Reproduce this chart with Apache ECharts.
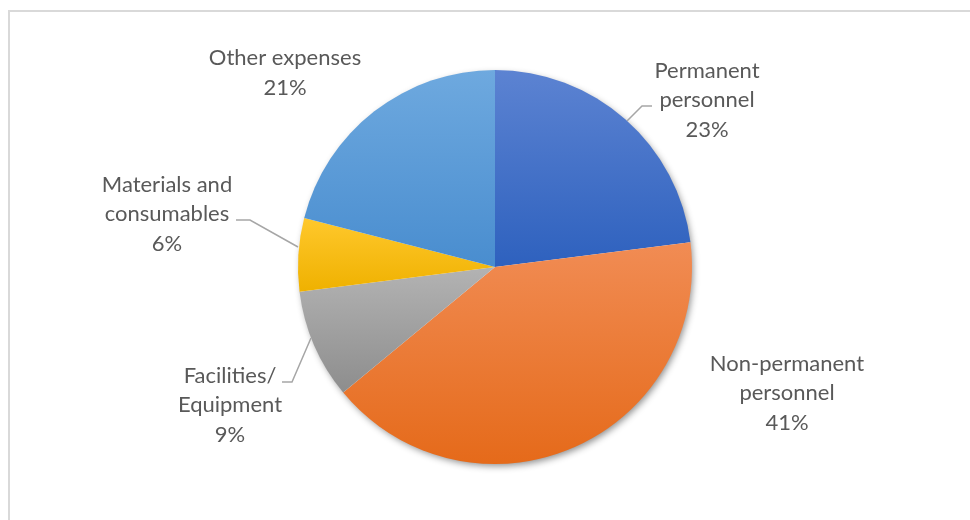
<!DOCTYPE html>
<html>
<head>
<meta charset="utf-8">
<script src="https://cdn.jsdelivr.net/npm/echarts@6/dist/echarts.min.js"></script>
<style>
  html, body { margin: 0; padding: 0; background: #ffffff; }
  #frame {
    position: absolute; left: 8px; top: 10px; width: 1000px; height: 560px;
    border: 2px solid #d9d9d9; box-sizing: border-box; background: #ffffff;
  }
  #chart { position: absolute; left: 0; top: 0; width: 970px; height: 520px; }
</style>
</head>
<body>
<div id="frame"></div>
<div id="chart"></div>
<script>
// Budget breakdown, share of total (%)
const categories = [
  'Permanent\npersonnel',
  'Non-permanent\npersonnel',
  'Facilities/\nEquipment',
  'Materials and\nconsumables',
  'Other expenses'
];
const shares = [23, 41, 9, 6, 21];

// Vertical gradient per slice: [top colour, bottom colour]
const sliceColors = [
  ['#5c83d2', '#2e61be'],
  ['#f18c54', '#e56a1a'],
  ['#b3b3b3', '#8d8d8d'],
  ['#ffc82c', '#efb100'],
  ['#6ea9df', '#498dcf']
];

// Pie geometry
const CX = 495, CY = 267, R = 197;

// Label block centres and leader lines, as offsets from the pie centre
const labelSpots = [
  { dx: 212, dy: -167, line: [[132, -146], [147, -161], [157, -161]] },
  { dx: 292, dy: 126, line: null },
  { dx: -265, dy: 138, line: [[-184, 71], [-203, 115], [-213, 115]] },
  { dx: -328, dy: -53, line: [[-197, -20], [-245, -47], [-259, -47]] },
  { dx: -210, dy: -194, line: null }
];

const chart = echarts.init(document.getElementById('chart'), null, { renderer: 'canvas' });

const pieData = shares.map((v, i) => ({
  name: categories[i],
  value: v,
  itemStyle: {
    color: {
      type: 'linear', x: 0, y: 0, x2: 0, y2: 1,
      colorStops: [
        { offset: 0, color: sliceColors[i][0] },
        { offset: 1, color: sliceColors[i][1] }
      ]
    }
  },
  labelLine: { show: !!labelSpots[i].line }
}));

chart.setOption({
  animation: false,
  backgroundColor: 'transparent',
  series: [
    {
      // soft drop shadow beneath the whole pie
      type: 'pie',
      silent: true,
      z: 1,
      center: [CX, CY],
      radius: R - 1,
      startAngle: 90,
      label: { show: false },
      labelLine: { show: false },
      itemStyle: {
        color: '#ffffff',
        shadowBlur: 7,
        shadowOffsetX: 2,
        shadowOffsetY: 3,
        shadowColor: 'rgba(0,0,0,0.45)'
      },
      data: [{ value: shares.reduce((a, b) => a + b, 0), name: '' }]
    },
    {
      type: 'pie',
      z: 2,
      center: [CX, CY],
      radius: R,
      startAngle: 90,
      clockwise: true,
      avoidLabelOverlap: false,
      itemStyle: { borderWidth: 0 },
      emphasis: { disabled: true },
      label: {
        show: true,
        position: 'outside',
        formatter: p => p.name + '\n' + Math.round(p.percent) + '%',
        fontFamily: 'Lato, "Open Sans", sans-serif',
        fontSize: 22,
        lineHeight: 29.5,
        color: '#595959',
        align: 'center'
      },
      labelLine: {
        lineStyle: { color: '#a6a6a6', width: 1.5 },
        smooth: false
      },
      labelLayout: function (params) {
        const spot = labelSpots[params.dataIndex];
        const out = {
          x: CX + spot.dx,
          y: CY + spot.dy,
          align: 'center',
          verticalAlign: 'middle'
        };
        if (spot.line) {
          out.labelLinePoints = spot.line.map(pt => [CX + pt[0], CY + pt[1]]);
        }
        return out;
      },
      data: pieData
    }
  ]
});
</script>
</body>
</html>
